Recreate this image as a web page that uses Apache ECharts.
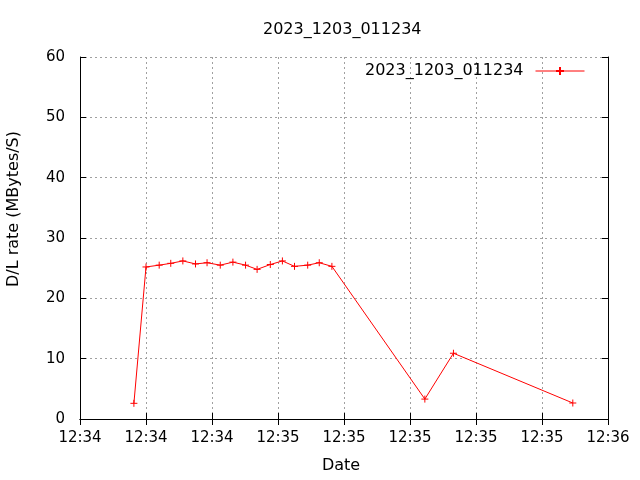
<!DOCTYPE html>
<html><head><meta charset="utf-8">
<script src="https://cdn.jsdelivr.net/npm/echarts@6/dist/echarts.min.js"></script>
<style>html,body{margin:0;padding:0;background:#fff}#c{width:640px;height:480px}</style>
</head><body><div id="c"></div>
<script>
var title = "2023_1203_011234";
var seriesName = "2023_1203_011234";
var times = ["12:34:33.8","12:34:36.0","12:34:38.4","12:34:40.5","12:34:42.7","12:34:45.0","12:34:47.1","12:34:49.5","12:34:51.8","12:34:54.1","12:34:56.2","12:34:58.6","12:35:00.8","12:35:03.0","12:35:05.4","12:35:07.5","12:35:09.8","12:35:26.7","12:35:31.9","12:35:53.6"];
var rates = [2.6,25.2,25.5,25.8,26.2,25.7,25.9,25.5,26.0,25.5,24.8,25.6,26.2,25.3,25.5,25.9,25.3,3.3,10.9,2.65];
var xStart = "12:34:24", xEnd = "12:36:00", xStep = 12;
var xTickLabels = ["12:34","12:34","12:34","12:35","12:35","12:35","12:35","12:35","12:36"];
var yTicks = [0,10,20,30,40,50,60];

function toSec(s){var p=s.split(':');return (+p[0])*3600+(+p[1])*60+(+p[2]);}
var xMin = toSec(xStart), xMax = toSec(xEnd);
function fmt(v){var i=Math.round((v-xMin)/xStep);return xTickLabels[i]!==undefined?xTickLabels[i]:'';}
var data = times.map(function(t,i){return [toSec(t), rates[i]];});
var font = 'DejaVu Sans';
var chart = echarts.init(document.getElementById('c'));
var gridLine = {show:true,lineStyle:{color:'#a0a0a0',type:[2,3],width:1}};
chart.setOption({
  animation:false,
  textStyle:{fontFamily:font},
  title:{text:title,left:258,top:17,textStyle:{fontFamily:font,fontSize:16,fontWeight:'normal',color:'#000'}},
  legend:{data:[seriesName],right:50,top:58,align:'right',itemWidth:49,itemHeight:10,itemGap:10,
    lineStyle:{width:1},
    textStyle:{fontFamily:font,fontSize:16,color:'#000',padding:[0,7,0,0]}},
  grid:{left:80,right:32,top:57,bottom:61},
  graphic:[{type:'text',x:14,y:209,rotation:Math.PI/2,
    style:{text:'D/L rate (MBytes/S)',font:'16px "DejaVu Sans"',fill:'#000',align:'center',verticalAlign:'middle'}}],
  xAxis:[{type:'value',min:xMin,max:xMax,interval:xStep,
    name:'Date',nameLocation:'middle',nameGap:39,nameTextStyle:{fontFamily:font,fontSize:16,color:'#000',padding:[0,6,0,0]},
    axisLine:{lineStyle:{color:'#000',width:1}},axisTick:{inside:true,length:6,lineStyle:{color:'#000'}},
    axisLabel:{formatter:fmt,fontFamily:font,fontSize:15,color:'#000',margin:12},
    splitLine:gridLine},
   {type:'value',position:'top',min:xMin,max:xMax,interval:xStep,
    axisLine:{show:true,lineStyle:{color:'#000',width:1}},axisTick:{inside:true,length:6,lineStyle:{color:'#000'}},
    axisLabel:{show:false},splitLine:{show:false}}],
  yAxis:[{type:'value',min:yTicks[0],max:yTicks[yTicks.length-1],interval:10,
    axisLine:{show:true,lineStyle:{color:'#000',width:1}},axisTick:{show:true,inside:true,length:6,lineStyle:{color:'#000'}},
    axisLabel:{fontFamily:font,fontSize:15,color:'#000',margin:15},
    splitLine:gridLine},
   {type:'value',position:'right',min:yTicks[0],max:yTicks[yTicks.length-1],interval:10,
    axisLine:{show:true,lineStyle:{color:'#000',width:1}},axisTick:{show:true,inside:true,length:6,lineStyle:{color:'#000'}},
    axisLabel:{show:false},splitLine:{show:false}}],
  series:[{name:seriesName,type:'line',data:data,xAxisIndex:0,yAxisIndex:0,
    symbol:'path://M-5,0L5,0M0,-5L0,5',symbolSize:7,showAllSymbol:true,
    lineStyle:{color:'#ff0000',width:1},
    itemStyle:{color:'#ff0000',borderColor:'#ff0000',borderWidth:1}}]
});
</script></body></html>
